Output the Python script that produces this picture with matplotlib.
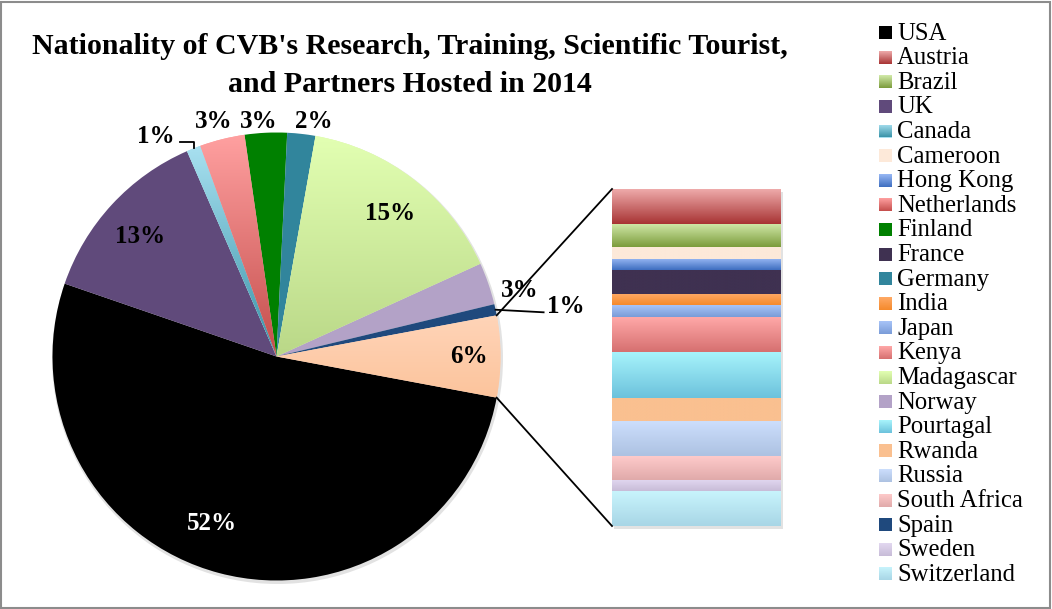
import numpy as np
import matplotlib
matplotlib.use("Agg")
import matplotlib.pyplot as plt
from matplotlib.patches import Rectangle, Circle
from matplotlib.colors import to_rgb

plt.rcParams["font.family"] = ["Liberation Serif", "DejaVu Serif"]

# data (counts, the pie labels show rounded percentages)
pie_names = ["USA", "UK", "Canada", "Netherlands", "Finland", "Germany",
             "Madagascar", "Norway", "Spain"]
pie_counts = [258, 65, 5, 16, 15, 10, 76, 15, 4]

bar_names = ["Austria", "Brazil", "Cameroon", "Hong Kong", "France", "India",
             "Japan", "Kenya", "Pourtagal", "Rwanda", "Russia", "South Africa",
             "Sweden", "Switzerland"]
bar_counts = [3, 2, 1, 1, 2, 1, 1, 3, 4, 2, 3, 2, 1, 3]

legend_names = ["USA", "Austria", "Brazil", "UK", "Canada", "Cameroon",
                "Hong Kong", "Netherlands", "Finland", "France", "Germany",
                "India", "Japan", "Kenya", "Madagascar", "Norway", "Pourtagal",
                "Rwanda", "Russia", "South Africa", "Spain", "Sweden",
                "Switzerland"]

title_lines = ["Nationality of CVB's Research, Training, Scientific Tourist,",
               "and Partners Hosted in 2014"]

# (top colour, bottom colour) of each fill
colors = {
    "USA": ("#000000", "#000000"),
    "Austria": ("#eeaaaa", "#a83434"),
    "Brazil": ("#d2eaaa", "#7c9c3c"),
    "UK": ("#604a7b", "#604a7b"),
    "Canada": ("#a8e0f0", "#3a93a8"),
    "Cameroon": ("#fde9d9", "#fde9d9"),
    "Hong Kong": ("#98b8f4", "#3e6ec0"),
    "Netherlands": ("#ffa0a0", "#c44e4c"),
    "Finland": ("#008000", "#008000"),
    "France": ("#3f3151", "#3f3151"),
    "Germany": ("#31859c", "#31859c"),
    "India": ("#ffaa66", "#f58a2c"),
    "Japan": ("#a8c4f8", "#7a9cd8"),
    "Kenya": ("#ffa8a8", "#d67070"),
    "Madagascar": ("#e2ffb2", "#bad888"),
    "Norway": ("#b3a2c7", "#b3a2c7"),
    "Pourtagal": ("#a8f4fc", "#6cc2dc"),
    "Rwanda": ("#fac090", "#fac090"),
    "Russia": ("#ccdefc", "#adc2e2"),
    "South Africa": ("#fecaca", "#e0aaaa"),
    "Spain": ("#1f497d", "#1f497d"),
    "Sweden": ("#e2d8f0", "#c8bcd8"),
    "Switzerland": ("#c8f4fc", "#a8d6e6"),
    "Other": ("#ffd4b8", "#fcc49c"),
}

# label placement: (radius factor, angle shift in degrees, colour)
label_style = {
    "Other": (0.86, 0, "black"),
    "USA": (0.80, -6.5, "white"),
    "UK": (0.81, 1.5, "black"),
    "Canada": (1.12, 7.0, "black"),
    "Netherlands": (1.085, 1.0, "black"),
    "Finland": (1.05, 1.5, "black"),
    "Germany": (1.06, -2.6, "black"),
    "Madagascar": (0.815, -0.6, "black"),
    "Norway": (1.125, -3.7, "black"),
    "Spain": (1.31, -2.2, "black"),
}

W, H = 1052, 609
fig = plt.figure(figsize=(W / 100, H / 100), dpi=100)
ax = fig.add_axes([0, 0, 1, 1])


def fill_gradient(patch, top, bottom, extent):
    c = np.linspace(to_rgb(top), to_rgb(bottom), 64)[:, None, :]
    im = ax.imshow(c, extent=extent, origin="upper", interpolation="bilinear",
                   aspect="auto", zorder=patch.get_zorder() + 0.1)
    im.set_clip_path(patch)


# pie: "Other" wedge centred at 3 o'clock, then clockwise
cx, cy, r = 276.5, H - 356.5, 224
other_total = sum(bar_counts)
values = [other_total] + pie_counts
names = ["Other"] + pie_names
total = sum(values)
start = 180 * other_total / total

ax.add_patch(Circle((cx + 1, cy - 2), r + 1.5, color="#e2e2e2", lw=0, zorder=0.5))
wedges, _ = ax.pie(values, colors=[colors[n][0] for n in names],
                   startangle=start, counterclock=False, center=(cx, cy),
                   radius=r, wedgeprops=dict(linewidth=0, zorder=1))

for w, n, v in zip(wedges, names, values):
    top, bottom = colors[n]
    if top != bottom:
        b = w.get_path().get_extents()
        fill_gradient(w, top, bottom, (b.x0, b.x1, b.y0, b.y1))
    dist, shift, col = label_style[n]
    mid = np.deg2rad((w.theta1 + w.theta2) / 2 + shift)
    lx, ly = cx + dist * r * np.cos(mid), cy + dist * r * np.sin(mid)
    ax.text(lx, ly, f"{round(100 * v / total)}%", ha="center", va="center",
            fontsize=18, fontweight="bold", color=col, zorder=5)
    if n in ("Canada", "Spain"):
        m = np.deg2rad((w.theta1 + w.theta2) / 2)
        ex, ey = cx + r * np.cos(m), cy + r * np.sin(m)
        if n == "Canada":
            pts = [(ex, ey), (ex, ey + 6), (lx + 24, ey + 6)]
        else:
            pts = [(ex, ey), (lx - 22, ly - 6)]
        ax.plot(*zip(*pts), color="black", lw=1.3, zorder=4)

# stacked bar of the small countries, first one on top
bar_x0, bar_w = 612, 169
bar_top, bar_bot = H - 189, H - 526
unit = (bar_top - bar_bot) / other_total
heights = np.array(bar_counts) * unit
bottoms = bar_top - np.cumsum(heights)
ax.add_patch(Rectangle((bar_x0 + 2, bar_bot - 3), bar_w, bar_top - bar_bot,
                       color="#e2e2e2", lw=0, zorder=0.5))
bars = ax.bar([bar_x0 + bar_w / 2] * len(bar_counts), heights, bottom=bottoms,
              width=bar_w, color=[colors[n][0] for n in bar_names],
              linewidth=0, zorder=1)
for rect, n in zip(bars, bar_names):
    top, bottom = colors[n]
    x0, y0 = rect.get_xy()
    fill_gradient(rect, top, bottom,
                  (x0, x0 + rect.get_width(), y0, y0 + rect.get_height()))

# connector lines from the "Other" wedge to the bar
ow = wedges[0]
for ang, by in ((ow.theta2, bar_top), (ow.theta1, bar_bot)):
    a = np.deg2rad(ang)
    ax.plot([cx + r * np.cos(a), bar_x0], [cy + r * np.sin(a), by],
            color="black", lw=1.3, zorder=4)

# legend drawn by hand so the rows can sit as tight as the original
sq = 13
for i, n in enumerate(legend_names):
    yc = H - (32.6 + i * 24.6)
    box = Rectangle((879, yc - sq / 2), sq, sq, color=colors[n][0], lw=0, zorder=2)
    ax.add_patch(box)
    if colors[n][0] != colors[n][1]:
        fill_gradient(box, colors[n][0], colors[n][1],
                      (879, 879 + sq, yc - sq / 2, yc + sq / 2))
    ax.text(897, yc - 7, n, ha="left", va="baseline", fontsize=17.8, zorder=3)

# title
ax.text(410, H - 54, title_lines[0], ha="center", va="baseline",
        fontsize=21.5, fontweight="bold")
ax.text(410, H - 92, title_lines[1], ha="center", va="baseline",
        fontsize=21.5, fontweight="bold")

ax.set_xlim(0, W)
ax.set_ylim(0, H)
ax.set_aspect("equal")
ax.axis("off")

fig.add_artist(Rectangle((0.001, 0.002), 0.997, 0.995, transform=fig.transFigure,
                         fill=False, edgecolor="#8c8c8c", lw=1.5))

fig.savefig("out.png", dpi=100)
